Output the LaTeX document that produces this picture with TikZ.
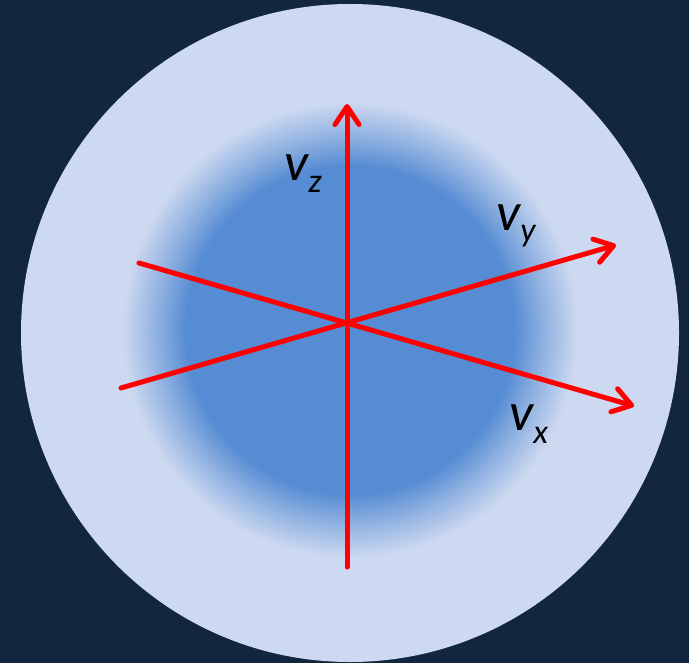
\documentclass[tikz,border=0pt]{standalone}
\usepackage{fontspec}
\setmainfont{Carlito}
\usetikzlibrary{arrows.meta}
\definecolor{bgnavy}{HTML}{12263F}
\definecolor{glow}{HTML}{CDD9F0}
\definecolor{core}{HTML}{568CD3}
\definecolor{axisred}{HTML}{FF0000}
\pgfdeclareradialshading{blob}{\pgfpoint{0bp}{0bp}}{%
  color(0bp)=(core); color(18bp)=(core); color(21bp)=(core!55!glow);
  color(25bp)=(glow); color(50bp)=(glow)}

\begin{document}
\begin{tikzpicture}[
  x=0.5pt, y=-0.5pt,
  axis/.style={draw=axisred, line width=2.5pt, line cap=round,
    -{Straight Barb[length=9pt, width=12pt, round]}},
  vlabel/.style={anchor=base west, inner sep=0pt, font=\fontsize{27}{30}\selectfont\itshape},
]
\useasboundingbox (0,0) rectangle (689,663);
\fill[bgnavy] (0,0) rectangle (689,663);
% sphere and its dense core
\fill[glow] (350,333) circle[radius=329];
\shade[shading=blob] (350,330) circle[radius=228];
% axes
\coordinate (o) at (347,323);
\coordinate (zlo) at (347,567);
\coordinate (zhi) at (347,104);
\coordinate (ylo) at (121,388);
\coordinate (yhi) at (616,245);
\coordinate (xlo) at (139,263);
\coordinate (xhi) at (634,406);
\draw[axis] (zlo) -- (zhi);
\draw[axis] (ylo) -- (yhi);
\draw[axis] (xlo) -- (xhi);
% labels
\node[vlabel] (lz) at (284,180) {v\raisebox{-6pt}{\fontsize{17}{20}\selectfont z}};
\node[vlabel] (ly) at (496,230) {v\raisebox{-5.5pt}{\fontsize{17}{20}\selectfont y}};
\node[vlabel] (lx) at (509,430) {v\raisebox{-6.5pt}{\fontsize{17}{20}\selectfont x}};
\end{tikzpicture}
\end{document}
